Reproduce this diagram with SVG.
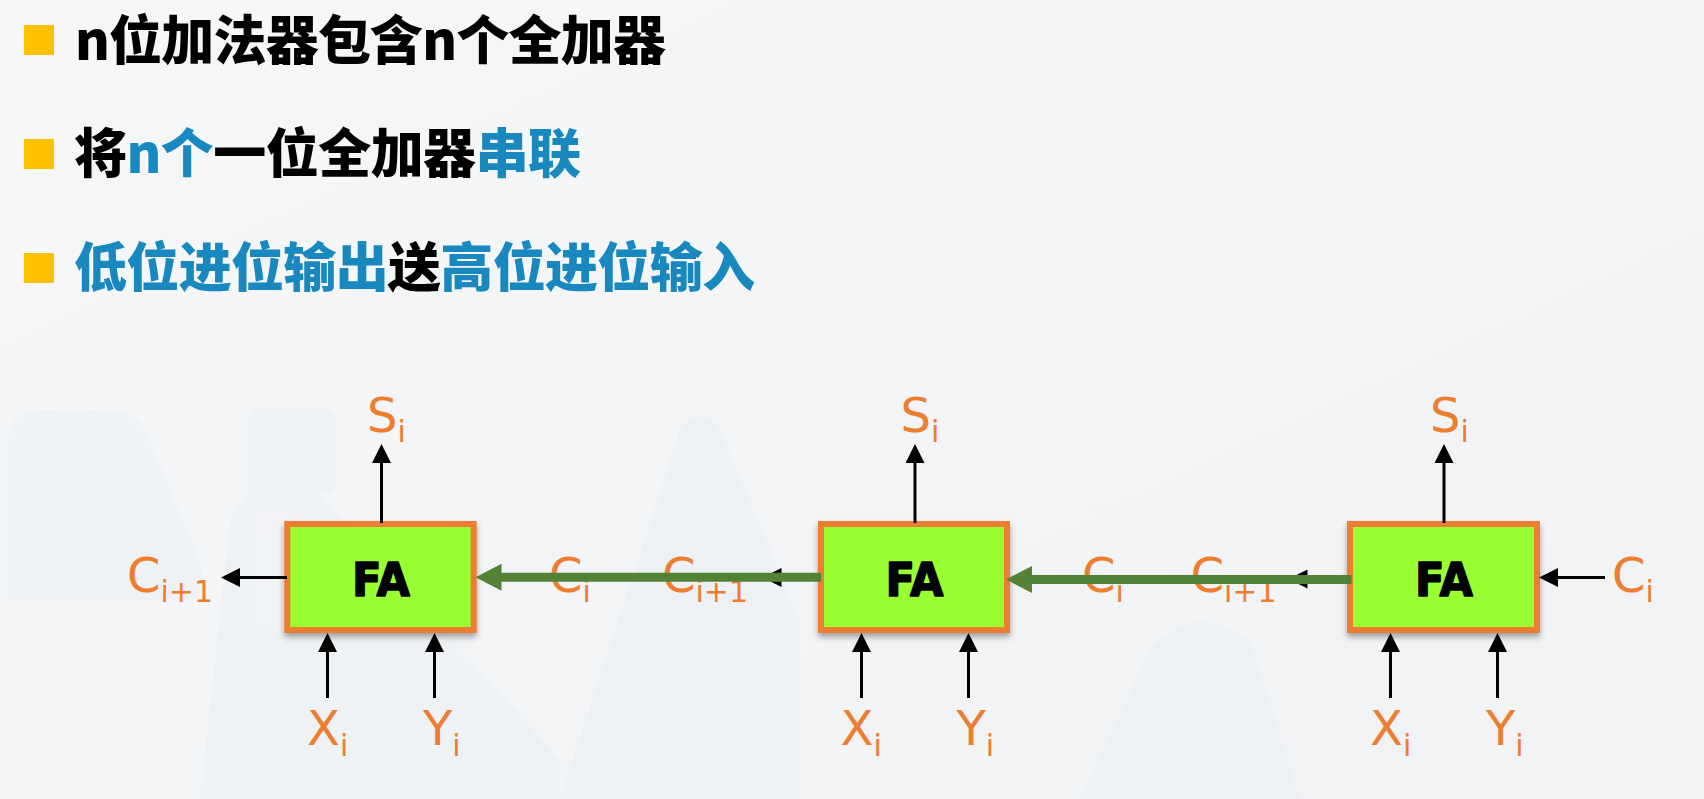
<svg xmlns="http://www.w3.org/2000/svg" width="1704" height="799" viewBox="0 0 1704 799">
<defs>
<linearGradient id="bg" x1="0" y1="0" x2="1" y2="1">
<stop offset="0" stop-color="#f5f7f9"/>
<stop offset="1" stop-color="#f0f2f4"/>
</linearGradient>
<filter id="sh" x="-10%" y="-10%" width="120%" height="130%">
<feDropShadow dx="0" dy="4" stdDeviation="3" flood-color="#000" flood-opacity="0.35"/>
</filter>
<marker id="ab" markerUnits="userSpaceOnUse" markerWidth="19" markerHeight="19" refX="9" refY="9.5" orient="auto">
<path d="M0,0 L19,9.5 L0,19 z" fill="#000"/>
</marker>
<marker id="ag" markerUnits="userSpaceOnUse" markerWidth="26" markerHeight="27" refX="14" refY="13.5" orient="auto">
<path d="M0,0 L26,13.5 L0,27 z" fill="#538135"/>
</marker>
<style>
.title{font-family:"Noto Sans CJK SC","Noto Sans",sans-serif;font-weight:900;font-size:53px;fill:#000}
.blue{fill:#1888be}
.bul{fill:#ffc000}
.box{fill:#99ff33;stroke:#ed7d31;stroke-width:6}
.fa{font-family:"DejaVu Sans",sans-serif;font-weight:bold;font-size:47px;fill:#000;stroke:#000;stroke-width:1.6;stroke-linejoin:round}
.lbl{font-family:"DejaVu Sans",sans-serif;font-size:48px;fill:#ed7d31}
.sub{font-size:30px}
.bk{stroke:#000;stroke-width:3;fill:none}
.gr{stroke:#538135;stroke-width:9;fill:none}
</style>
</defs>
<rect width="1704" height="799" fill="url(#bg)"/>
<g fill="#e6eaee" opacity="0.25">
<path d="M8,440 Q10,410 40,410 L110,410 Q140,410 150,440 L200,560 Q210,600 180,600 L8,600 z"/>
<rect x="248" y="408" width="88" height="85" rx="8"/>
<path d="M230,520 L260,470 Q280,450 300,470 L560,760 L560,799 L200,799 z"/>
<path d="M560,799 L680,430 Q700,400 720,430 L800,620 L800,799 z"/>
<path d="M1080,799 L1150,650 Q1190,600 1250,640 L1300,799 z"/>
</g>

<g id="title">
<rect class="bul" x="24" y="25" width="30" height="30"/>
<text class="title" x="75" y="60" textLength="591" lengthAdjust="spacing">n位加法器包含n个全加器</text>
<rect class="bul" x="24" y="139" width="30" height="30"/>
<text class="title" x="74" y="173" textLength="507" lengthAdjust="spacing">将<tspan class="blue">n个</tspan>一位全加器<tspan class="blue">串联</tspan></text>
<rect class="bul" x="24" y="253" width="30" height="30"/>
<text class="title" x="74" y="287" textLength="681" lengthAdjust="spacing"><tspan class="blue">低位进位输出</tspan>送<tspan class="blue">高位进位输入</tspan></text>
</g>

<g id="labels">
<text class="lbl" x="367" y="432">S<tspan class="sub" dy="10">i</tspan></text>
<text class="lbl" x="900.5" y="432">S<tspan class="sub" dy="10">i</tspan></text>
<text class="lbl" x="1430" y="432">S<tspan class="sub" dy="10">i</tspan></text>
<text class="lbl" x="307" y="745">X<tspan class="sub" dy="11">i</tspan></text>
<text class="lbl" x="423" y="745">Y<tspan class="sub" dy="11">i</tspan></text>
<text class="lbl" x="840.5" y="745">X<tspan class="sub" dy="11">i</tspan></text>
<text class="lbl" x="956.5" y="745">Y<tspan class="sub" dy="11">i</tspan></text>
<text class="lbl" x="1370" y="745">X<tspan class="sub" dy="11">i</tspan></text>
<text class="lbl" x="1486" y="745">Y<tspan class="sub" dy="11">i</tspan></text>
<text class="lbl" x="127" y="592">C<tspan class="sub" dy="10">i+1</tspan></text>
<text class="lbl" x="549" y="592">C<tspan class="sub" dy="10">i</tspan></text>
<text class="lbl" x="662" y="592">C<tspan class="sub" dy="10">i+1</tspan></text>
<text class="lbl" x="1082" y="592">C<tspan class="sub" dy="10">i</tspan></text>
<text class="lbl" x="1190.5" y="592">C<tspan class="sub" dy="10">i+1</tspan></text>
<text class="lbl" x="1612" y="592">C<tspan class="sub" dy="10">i</tspan></text>
</g>

<g id="fa1">
<rect class="box" x="287.3" y="524" width="186.4" height="106" filter="url(#sh)"/>
<text class="fa" x="381" y="596" text-anchor="middle" textLength="58" lengthAdjust="spacingAndGlyphs">FA</text>
</g>
<g id="fa2">
<rect class="box" x="821" y="524" width="186" height="106" filter="url(#sh)"/>
<text class="fa" x="914.5" y="596" text-anchor="middle" textLength="58" lengthAdjust="spacingAndGlyphs">FA</text>
</g>
<g id="fa3">
<rect class="box" x="1350" y="524" width="187" height="106" filter="url(#sh)"/>
<text class="fa" x="1444" y="596" text-anchor="middle" textLength="58" lengthAdjust="spacingAndGlyphs">FA</text>
</g>

<g id="connectors">
<line class="bk" x1="381.5" y1="523" x2="381.5" y2="454" marker-end="url(#ab)"/>
<line class="bk" x1="915" y1="523" x2="915" y2="454" marker-end="url(#ab)"/>
<line class="bk" x1="1444" y1="523" x2="1444" y2="454" marker-end="url(#ab)"/>
<line class="bk" x1="327.5" y1="698" x2="327.5" y2="643" marker-end="url(#ab)"/>
<line class="bk" x1="434.5" y1="698" x2="434.5" y2="643" marker-end="url(#ab)"/>
<line class="bk" x1="861.5" y1="698" x2="861.5" y2="643" marker-end="url(#ab)"/>
<line class="bk" x1="968.5" y1="698" x2="968.5" y2="643" marker-end="url(#ab)"/>
<line class="bk" x1="1390.5" y1="698" x2="1390.5" y2="643" marker-end="url(#ab)"/>
<line class="bk" x1="1497.5" y1="698" x2="1497.5" y2="643" marker-end="url(#ab)"/>
<line class="bk" x1="287" y1="577.5" x2="231" y2="577.5" marker-end="url(#ab)"/>
<line class="bk" x1="820" y1="577.5" x2="772.5" y2="577.5" marker-end="url(#ab)"/>
<line class="bk" x1="1349" y1="579" x2="1298.5" y2="579" marker-end="url(#ab)"/>
<line class="bk" x1="1605" y1="577.5" x2="1549" y2="577.5" marker-end="url(#ab)"/>
<line class="gr" x1="821" y1="577.3" x2="487.5" y2="577.3" marker-end="url(#ag)"/>
<line class="gr" x1="1351.5" y1="579.5" x2="1018" y2="579.5" marker-end="url(#ag)"/>
</g>
</svg>
